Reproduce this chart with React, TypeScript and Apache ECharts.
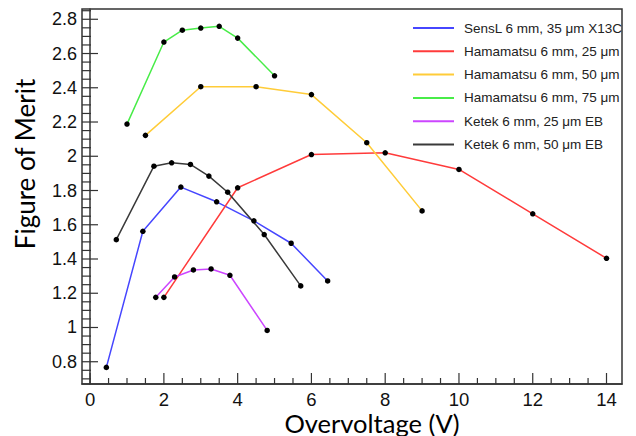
import React, { useEffect, useRef } from "react";
import * as echarts from "echarts";

// Overvoltage (V) and Figure of Merit for each SiPM
const sensLX = [0.44, 1.43, 2.46, 3.43, 4.44, 5.45, 6.44];
const sensLY = [0.767, 1.562, 1.82, 1.734, 1.623, 1.492, 1.272];

const hama25X = [2.0, 4.0, 6.0, 8.0, 10.0, 12.0, 14.0];
const hama25Y = [1.176, 1.816, 2.01, 2.02, 1.923, 1.664, 1.404];

const hama50X = [1.5, 3.0, 4.5, 6.0, 7.5, 9.0];
const hama50Y = [2.122, 2.406, 2.406, 2.36, 2.079, 1.681];

const hama75X = [1.0, 2.0, 2.5, 3.0, 3.5, 4.0, 5.0];
const hama75Y = [2.188, 2.667, 2.736, 2.749, 2.759, 2.69, 2.47];

const ketek25X = [1.78, 2.29, 2.8, 3.28, 3.79, 4.8];
const ketek25Y = [1.176, 1.295, 1.336, 1.342, 1.305, 0.983];

const ketek50X = [0.71, 1.73, 2.21, 2.72, 3.22, 3.73, 4.72, 5.71];
const ketek50Y = [1.513, 1.942, 1.962, 1.952, 1.884, 1.79, 1.543, 1.243];

const seriesNames = [
  "SensL 6 mm, 35 \u03bcm X13C",
  "Hamamatsu 6 mm, 25 \u03bcm",
  "Hamamatsu 6 mm, 50 \u03bcm",
  "Hamamatsu 6 mm, 75 \u03bcm",
  "Ketek 6 mm, 25 \u03bcm EB",
  "Ketek 6 mm, 50 \u03bcm EB",
];
const seriesX = [sensLX, hama25X, hama50X, hama75X, ketek25X, ketek50X];
const seriesY = [sensLY, hama25Y, hama50Y, hama75Y, ketek25Y, ketek50Y];
const seriesColors = ["#4646ff", "#ff3b3b", "#ffcc38", "#48ec48", "#cc46ff", "#3a3a3a"];

// Axis ticks
const xMajorTicks = [0, 2, 4, 6, 8, 10, 12, 14];
const xMinorTicks = [0.5, 1, 1.5, 2.5, 3, 3.5, 4.5, 5, 5.5, 6.5, 7, 7.5, 8.5, 9, 9.5, 10.5, 11, 11.5, 12.5, 13, 13.5];
const yMajorTicks = [0.8, 1, 1.2, 1.4, 1.6, 1.8, 2, 2.2, 2.4, 2.6, 2.8];
const yMinorTicks = [
  0.7, 0.75, 0.85, 0.9, 0.95, 1.05, 1.1, 1.15, 1.25, 1.3, 1.35, 1.45, 1.5, 1.55,
  1.65, 1.7, 1.75, 1.85, 1.9, 1.95, 2.05, 2.1, 2.15, 2.25, 2.3, 2.35, 2.45, 2.5,
  2.55, 2.65, 2.7, 2.75, 2.85,
];

const X_MIN = -0.22;
const X_MAX = 14.42;
const Y_MIN = 0.67;
const Y_MAX = 2.86;

const frameColor = "#333";
const frameLine = { show: true, lineStyle: { color: frameColor, width: 1.5 } };

// Inward tick marks, positioned through the axes' own scales.
function tickSeries(values: number[], vertical: boolean, length: number) {
  return {
    type: "custom",
    silent: true,
    clip: false,
    z: 4,
    data: values.map((v) => (vertical ? [v, Y_MIN] : [X_MIN, v])),
    renderItem: (_params: any, api: any) => {
      const p = api.coord([api.value(0), api.value(1)]);
      const shape = vertical
        ? { x1: p[0], y1: p[1], x2: p[0], y2: p[1] - length }
        : { x1: p[0], y1: p[1], x2: p[0] + length, y2: p[1] };
      return {
        type: "line",
        shape,
        style: { stroke: frameColor, lineWidth: 1.2 },
      };
    },
  };
}

export default function App() {
  const ref = useRef<HTMLDivElement>(null);

  useEffect(() => {
    if (!ref.current) return;
    const chart = echarts.init(ref.current, undefined, { renderer: "svg" });

    const series: any[] = seriesNames.map((name, i) => ({
      name,
      type: "line",
      data: seriesX[i].map((x, j) => [x, seriesY[i][j]]),
      symbol: "circle",
      symbolSize: 5.5,
      showSymbol: true,
      color: seriesColors[i],
      lineStyle: { color: seriesColors[i], width: 1.5 },
      itemStyle: { color: "#000" },
      z: 3,
    }));
    series.push(
      tickSeries(xMajorTicks, true, 11),
      tickSeries(xMinorTicks, true, 6),
      tickSeries(yMajorTicks, false, 16),
      tickSeries(yMinorTicks, false, 9)
    );

    chart.setOption({
      animation: false,
      backgroundColor: "#fff",
      grid: {
        left: 82,
        right: 14,
        top: 9,
        bottom: 52,
        show: true,
        borderColor: frameColor,
        borderWidth: 1.5,
        backgroundColor: "transparent",
      },
      legend: {
        orient: "vertical",
        left: 407,
        top: 16,
        itemWidth: 41,
        itemHeight: 14,
        itemGap: 9.3,
        itemStyle: { opacity: 0 },
        textStyle: {
          fontFamily: "Liberation Sans",
          fontSize: 13.5,
          color: "#222",
          padding: [0, 0, 0, 5],
        },
        data: seriesNames,
      },
      xAxis: {
        type: "value",
        min: X_MIN,
        max: X_MAX,
        axisLine: frameLine,
        splitLine: { show: false },
        axisTick: { show: false },
        axisLabel: {
          show: true,
          customValues: xMajorTicks,
          fontFamily: "Liberation Sans",
          fontSize: 18.5,
          lineHeight: 15,
          color: "#111",
          margin: 7.5,
        },
      },
      yAxis: {
        type: "value",
        min: Y_MIN,
        max: Y_MAX,
        axisLine: frameLine,
        splitLine: { show: false },
        axisTick: { show: false },
        axisLabel: {
          show: true,
          customValues: yMajorTicks,
          fontFamily: "Liberation Sans",
          fontSize: 18,
          color: "#111",
          margin: 5,
        },
      },
      graphic: [
        {
          type: "text",
          x: 372,
          y: 422.5,
          style: {
            text: "Overvoltage (V)",
            fontFamily: "Lato",
            fontSize: 25.5,
            lineHeight: 22,
            fill: "#000",
            align: "center",
            verticalAlign: "middle",
          },
        },
        {
          type: "text",
          x: 25,
          y: 164,
          rotation: Math.PI / 2,
          style: {
            text: "Figure of Merit",
            fontFamily: "Lato",
            fontSize: 26,
            fill: "#000",
            align: "center",
            verticalAlign: "middle",
          },
        },
      ],
      series,
    });

    return () => chart.dispose();
  }, []);

  return (
    <div
      ref={ref}
      style={{ position: "fixed", left: 0, top: 0, width: 636, height: 436 }}
    />
  );
}
